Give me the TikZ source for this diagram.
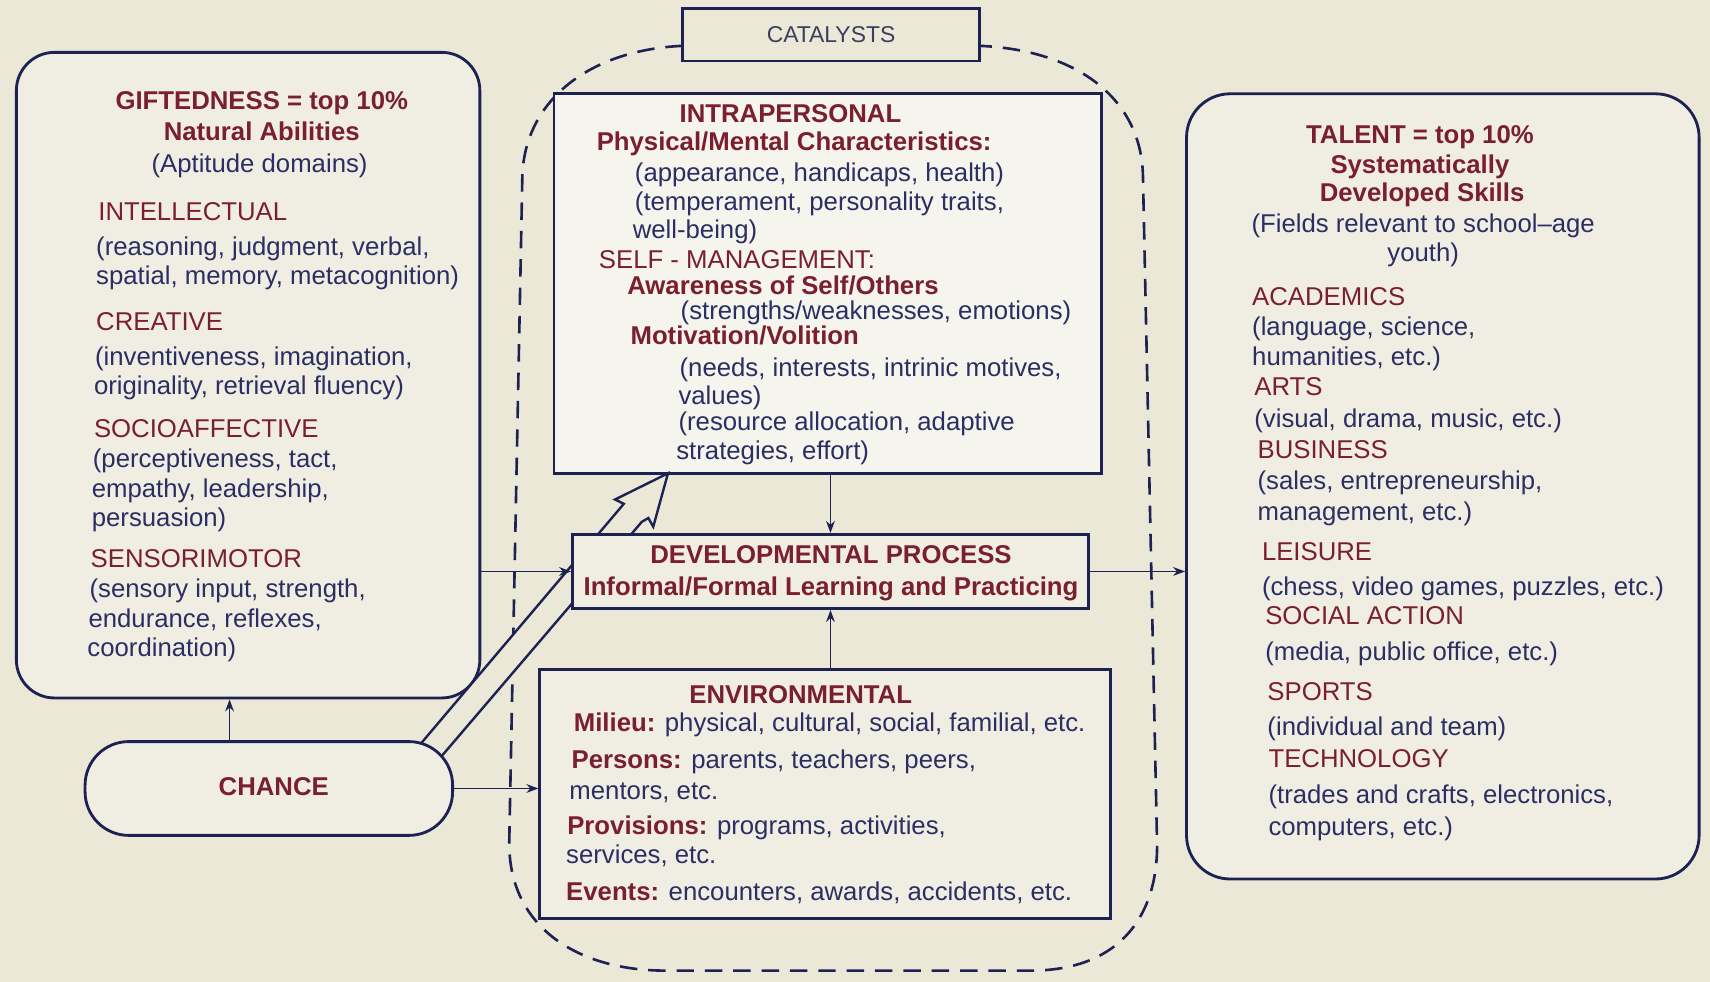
\documentclass[tikz,border=0pt]{standalone}
\usepackage{fontspec}
\setmainfont{Liberation Sans}
\usetikzlibrary{arrows.meta}
\definecolor{bgc}{HTML}{ECE8D7}
\definecolor{boxfill}{HTML}{F0EEE3}
\definecolor{intrafill}{HTML}{F5F4ED}
\definecolor{maroon}{HTML}{7A1F2E}
\definecolor{navytx}{HTML}{2B2E63}
\definecolor{linec}{HTML}{1E2252}
\definecolor{catc}{HTML}{3B3E60}
\begin{document}
\begin{tikzpicture}[x=1pt,y=-1pt,
  font=\fontsize{23.6}{28}\selectfont,
  tx/.style={anchor=base west,inner sep=0pt,text=navytx},
  txc/.style={tx,anchor=base},
  hd/.style={tx,text=maroon},
  hb/.style={hd,font=\fontsize{23.6}{28}\selectfont\bfseries},
  hbc/.style={hb,anchor=base},
  sqbox/.style={draw=linec,line width=2.6pt,fill=boxfill,inner sep=0pt},
  rbox/.style={sqbox,rounded corners=35pt},
  arr/.style={draw=linec,line width=1.6pt,-{Stealth[length=11pt,width=8pt]}},
  dashline/.style={draw=linec,line width=2.4pt,dash pattern=on 16pt off 10pt},
  bandline/.style={draw=linec,line width=2.2pt,line join=miter}]
\fill[bgc] (0,0) rectangle (1568,900);
\useasboundingbox (0,0) rectangle (1568,900);

% dashed catalyst region
\coordinate (dl) at (626,42);
\coordinate (dr) at (898,42);
\draw[dashline] (dl) .. controls (540,46) and (482,92) .. (479,160) -- (467,770)
  .. controls (465,850) and (530,890) .. (610,890) -- (945,890)
  .. controls (1022,890) and (1061,845) .. (1061,775) -- (1048,160)
  .. controls (1046,92) and (990,46) .. (dr);

% main boxes
\node[rbox,minimum width=425pt,minimum height=592pt] (gifted) at (227.5,344) {};
\node[sqbox,fill=intrafill,minimum width=502pt,minimum height=348pt] (intra) at (759,260) {};
\node[sqbox,minimum width=523pt,minimum height=228pt] (env) at (756.5,728) {};
\node[rbox,rounded corners=40pt,minimum width=470pt,minimum height=720pt] (talent) at (1323,446) {};

% double-lined band arrow from chance to intrapersonal
\coordinate (bL1) at (367.4,703.7);
\coordinate (bR1) at (388.4,712.7);
\coordinate (bLj) at (572,462);
\coordinate (bLb) at (564,458);
\coordinate (btip) at (612.5,434);
\coordinate (bRb) at (599,483);
\coordinate (bRj) at (594.5,475);
\coordinate (bRk) at (588.5,478.5);
\fill[bgc] (bL1) -- (bLj) -- (bLb) -- (btip) -- (bRb) -- (bRj) -- (bRk) -- (bR1) -- cycle;
\draw[bandline] (bL1) -- (bLj) -- (bLb) -- (btip) -- (bRb) -- (bRj) -- (bRk) -- (bR1);

% boxes drawn over the band
\node[sqbox,minimum width=473pt,minimum height=68pt] (dev) at (761.5,524) {};
\node[rbox,rounded corners=40pt,minimum width=337pt,minimum height=86pt] (chance) at (246.5,723) {};
\node[sqbox,fill=bgc,minimum width=272pt,minimum height=48pt] (catal) at (762,32) {};

% connectors
\draw[arr] (gifted.east |- dev.west) -- (dev.west);
\draw[arr] (dev.east) -- (dev.east -| talent.west);
\draw[arr] (dev.north |- intra.south) -- (dev.north);
\draw[arr] (dev.south |- env.north) -- (dev.south);
\path ([xshift=-36pt]chance.north) coordinate (cgs);
\draw[arr] (cgs) -- (cgs |- gifted.south);
\draw[arr] (chance.east) -- (chance.east -| env.west);

% catalysts label
\node[anchor=base,inner sep=0pt,text=catc,font=\fontsize{21}{24}\selectfont] (catt) at (762,39) {CATALYSTS};

% giftedness text
\node[hbc] (g1) at (240,100) {GIFTEDNESS = top 10\%};
\node[hbc] (g2) at (240,129) {Natural Abilities};
\node[txc] (g3) at (238,158) {(Aptitude domains)};
\node[hd] (g4) at (90,202) {INTELLECTUAL};
\node[tx] (g5) at (88,234) {(reasoning, judgment, verbal,};
\node[tx] (g6) at (88,261) {spatial, memory, metacognition)};
\node[hd] (g7) at (88,303) {CREATIVE};
\node[tx] (g8) at (87,335) {(inventiveness, imagination,};
\node[tx] (g9) at (86,362) {originality, retrieval fluency)};
\node[hd] (g10) at (86,401) {SOCIOAFFECTIVE};
\node[tx] (g11) at (85,429) {(perceptiveness, tact,};
\node[tx] (g12) at (84,456) {empathy, leadership,};
\node[tx] (g13) at (84,483) {persuasion)};
\node[hd] (g14) at (83,520) {SENSORIMOTOR};
\node[tx] (g15) at (82,548) {(sensory input, strength,};
\node[tx] (g16) at (81,575) {endurance, reflexes,};
\node[tx] (g17) at (80,602) {coordination)};

% intrapersonal text
\node[hb] (i1) at (623,112) {INTRAPERSONAL};
\node[hb] (i2) at (547,138) {Physical/Mental Characteristics:};
\node[tx] (i3) at (582,166) {(appearance, handicaps, health)};
\node[tx] (i4) at (582,193) {(temperament, personality traits,};
\node[tx] (i5) at (580,219) {well-being)};
\node[hd] (i6) at (549,246) {SELF - MANAGEMENT:};
\node[hb] (i7) at (575,270) {Awareness of Self/Others};
\node[tx] (i8) at (624,293) {(strengths/weaknesses, emotions)};
\node[hb] (i9) at (578,316) {Motivation/Volition};
\node[tx] (i10) at (623,345) {(needs, interests, intrinic motives,};
\node[tx] (i11) at (622,371) {values)};
\node[tx] (i12) at (622,395) {(resource allocation, adaptive};
\node[tx] (i13) at (620,421) {strategies, effort)};

% developmental process text
\node[hbc] (d1) at (762,517) {DEVELOPMENTAL PROCESS};
\node[hbc] (d2) at (762,546) {Informal/Formal Learning and Practicing};

% environmental text
\node[hb] (e1) at (632,645) {ENVIRONMENTAL};
\node[tx] (e2) at (526,671) {\textcolor{maroon}{\bfseries Milieu:} physical, cultural, social, familial, etc.};
\node[tx] (e3) at (524,705) {\textcolor{maroon}{\bfseries Persons:} parents, teachers, peers,};
\node[tx] (e4) at (522,733) {mentors, etc.};
\node[tx] (e5) at (520,765) {\textcolor{maroon}{\bfseries Provisions:} programs, activities,};
\node[tx] (e6) at (519,792) {services, etc.};
\node[tx] (e7) at (519,826) {\textcolor{maroon}{\bfseries Events:} encounters, awards, accidents, etc.};

% chance text
\node[hbc] (c1) at (251,729) {CHANCE};

% talent text
\node[hbc] (t1) at (1302,132) {TALENT = top 10\%};
\node[hbc] (t2) at (1302,159) {Systematically};
\node[hbc] (t3) at (1304,185) {Developed Skills};
\node[txc] (t4) at (1305,213) {(Fields relevant to school--age};
\node[txc] (t5) at (1305,240) {youth)};
\node[hd] (t6) at (1148,280) {ACADEMICS};
\node[tx] (t7) at (1148,308) {(language, science,};
\node[tx] (t8) at (1148,335) {humanities, etc.)};
\node[hd] (t9) at (1150,363) {ARTS};
\node[tx] (t10) at (1150,392) {(visual, drama, music, etc.)};
\node[hd] (t11) at (1153,420) {BUSINESS};
\node[tx] (t12) at (1153,449) {(sales, entrepreneurship,};
\node[tx] (t13) at (1153,477) {management, etc.)};
\node[hd] (t14) at (1157,514) {LEISURE};
\node[tx] (t15) at (1157,546) {(chess, video games, puzzles, etc.)};
\node[hd] (t16) at (1160,573) {SOCIAL ACTION};
\node[tx] (t17) at (1160,606) {(media, public office, etc.)};
\node[hd] (t18) at (1162,642) {SPORTS};
\node[tx] (t19) at (1162,674) {(individual and team)};
\node[hd] (t20) at (1163,704) {TECHNOLOGY};
\node[tx] (t21) at (1163,737) {(trades and crafts, electronics,};
\node[tx] (t22) at (1163,766) {computers, etc.)};
\end{tikzpicture}
\end{document}
